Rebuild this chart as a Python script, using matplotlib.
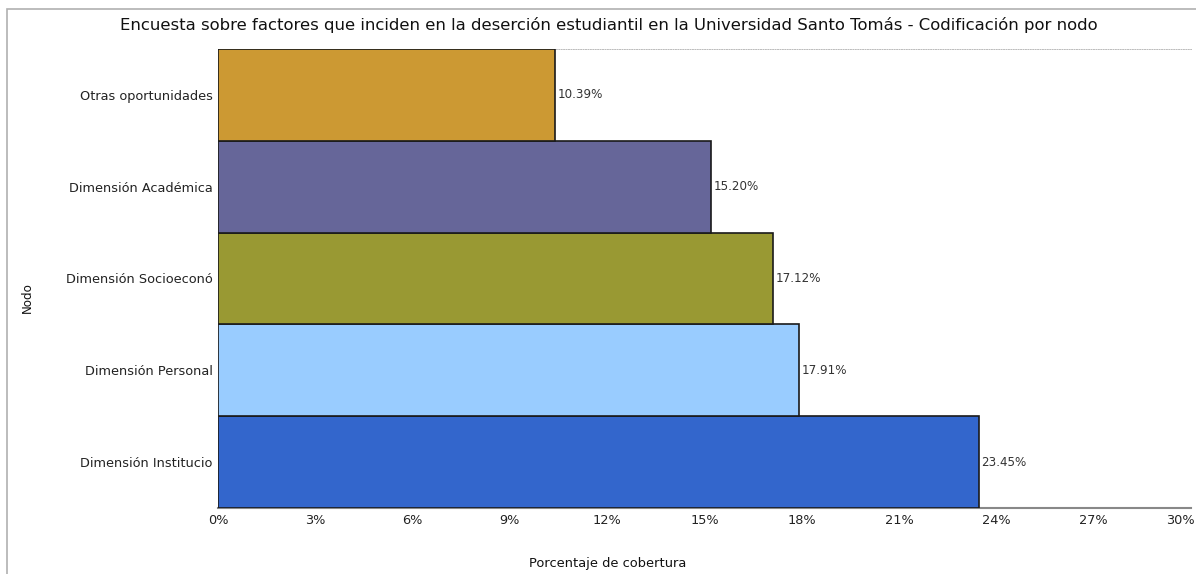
import matplotlib
matplotlib.use("Agg")
import matplotlib.pyplot as plt
from matplotlib.patches import Rectangle
from matplotlib.ticker import FuncFormatter
import matplotlib.transforms as mtransforms

categories = ["Dimensión Institucio", "Dimensión Personal", "Dimensión Socioeconó",
              "Dimensión Académica", "Otras oportunidades"]
values = [23.45, 17.91, 17.12, 15.20, 10.39]
colors = ["#3366CC", "#99CCFF", "#999933", "#666699", "#CC9933"]
xticks = [0, 3, 6, 9, 12, 15, 18, 21, 24, 27, 30]

plt.rcParams['font.family'] = ['DejaVu Sans']

fig = plt.figure(figsize=(11.96, 5.74), dpi=100)
ax = fig.add_axes([218/1196, 1-508/574, (1191-218)/1196, (508-49)/574])

ypos = list(range(len(categories)))
ax.barh(ypos, values, height=1.0, color=colors, edgecolor="#1a1a1a", linewidth=1.2, zorder=3)
for y, v in zip(ypos, values):
    ax.text(v + 0.08, y, f"{v:.2f}%", va="center", ha="left", fontsize=8.6, color="#333333")

ax.set_xlim(0, 30)
ax.set_ylim(-0.5, len(categories) - 0.5)
ax.set_xticks(xticks)
ax.xaxis.set_major_formatter(FuncFormatter(lambda x, p: f"{int(x)}%"))
ax.set_yticks(ypos)
ax.set_yticklabels(categories)
ax.tick_params(axis="both", length=0, colors="#222222")
ax.tick_params(axis="x", pad=4, labelsize=9.3)
ax.tick_params(axis="y", pad=4, labelsize=9.3)

fig.canvas.draw()
last = ax.get_xticklabels()[-1]
last.set_horizontalalignment("right")
last.set_transform(last.get_transform() + mtransforms.ScaledTranslation(4/100, 0, fig.dpi_scale_trans))

for s in ["left", "right"]:
    ax.spines[s].set_visible(False)
ax.spines["bottom"].set_color("#888888")
ax.spines["bottom"].set_linewidth(1.5)
ax.spines["top"].set_color("#bbbbbb")
ax.spines["top"].set_linestyle((0, (1, 1.5)))
ax.spines["top"].set_linewidth(0.7)
ax.spines["top"].set_zorder(1)

fig.text(609/1196, 1-25/574, "Encuesta sobre factores que inciden en la deserción estudiantil en la Universidad Santo Tomás - Codificación por nodo",
         ha="center", va="center", fontsize=11.85, color="#111111")
fig.text(608/1196, 1-564/574, "Porcentaje de cobertura", ha="center", va="center", fontsize=9.4, color="#111111")
fig.text(27/1196, 1-298/574, "Nodo", ha="center", va="center", rotation=90, fontsize=8.6, color="#111111")

fig.add_artist(Rectangle((7/1196, -0.05), 1.2, 1-9/574 + 0.05, transform=fig.transFigure,
                         fill=False, edgecolor="#b0b0b0", linewidth=1.2))

fig.savefig("out.png", dpi=100)
